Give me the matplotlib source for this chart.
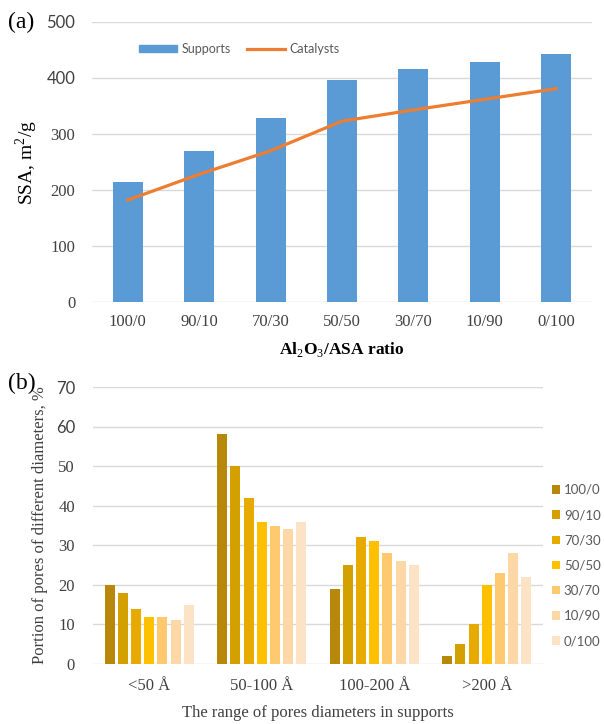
import numpy as np
import matplotlib.pyplot as plt
from matplotlib.patches import Patch
from matplotlib.lines import Line2D

# Données
ratios = ["100/0", "90/10", "70/30", "50/50", "30/70", "10/90", "0/100"]
ssa_supports = [215, 270, 328, 397, 416, 428, 443]
ssa_catalysts = [182, 228, 270, 323, 343, 362, 381]

pore_ranges = ["<50 Å", "50-100 Å", "100-200 Å", ">200 Å"]
pores_100_0 = [20, 58, 19, 2]
pores_90_10 = [18, 50, 25, 5]
pores_70_30 = [14, 42, 32, 10]
pores_50_50 = [12, 36, 31, 20]
pores_30_70 = [12, 35, 28, 23]
pores_10_90 = [11, 34, 26, 28]
pores_0_100 = [15, 36, 25, 22]
pores = [pores_100_0, pores_90_10, pores_70_30, pores_50_50,
         pores_30_70, pores_10_90, pores_0_100]

gold = ["#B8880A", "#D4A000", "#E6AA00", "#FFC000", "#FFC970", "#FDD7A6", "#FDE3C5"]
blue = "#5B9BD5"
orange = "#ED7D31"
grid_c = "#D9D9D9"
txt_c = "#404040"
serif = "Liberation Serif"
sans = "Lato"

plt.rcParams["mathtext.fontset"] = "custom"
plt.rcParams["mathtext.rm"] = serif
plt.rcParams["mathtext.bf"] = serif + ":bold"

fig = plt.figure(figsize=(6.04, 7.24), dpi=100)

def style_axes(ax):
    for s in ax.spines.values():
        s.set_visible(False)
    ax.grid(axis="y", color=grid_c, linewidth=1.0)
    ax.set_axisbelow(True)
    ax.tick_params(length=0)

# (a) surface spécifique
ax1 = fig.add_axes([92/604, 1-302/724, 500/604, 280/724])
style_axes(ax1)
x = np.arange(len(ratios))
ax1.bar(x, ssa_supports, width=0.42, color=blue, zorder=2)
ax1.plot(x, ssa_catalysts, color=orange, linewidth=2.3, zorder=3)
ax1.set_xlim(-0.5, len(ratios) - 0.5)
ax1.set_ylim(0, 500)
ax1.set_yticks(range(0, 501, 100))
ax1.set_xticks(x)
ax1.set_xticklabels(ratios, fontfamily=serif, fontsize=12, color=txt_c)
ax1.tick_params(axis="x", pad=9)
ax1.tick_params(axis="y", pad=12)
for lab in ax1.get_yticklabels():
    v = lab.get_position()[1]
    lab.set_fontfamily(sans if v >= 400 else serif)
    lab.set_fontsize(12)
    lab.set_color(txt_c)
ax1.set_ylabel("SSA, m$^2$/g", fontfamily=serif, fontsize=14)
ax1.yaxis.set_label_coords(-52/500, 0.5)
ax1.set_xlabel("Al$_2$O$_3$/ASA ratio", fontfamily=serif, fontsize=12.5,
               fontweight="bold")
ax1.xaxis.set_label_coords(0.5, -38/280)
ax1.legend(handles=[Patch(color=blue, label="Supports"),
                    Line2D([0], [0], color=orange, lw=2.3, label="Catalysts")],
           loc="upper left", bbox_to_anchor=(36/500, 0.965), ncol=2, frameon=False,
           prop={"family": sans, "size": 9}, labelcolor="#595959",
           handlelength=3.0, handleheight=0.55, handletextpad=0.4, columnspacing=1.3)
fig.text(8/604, 1-22/724, "(a)", fontfamily=serif, fontsize=17, va="center")

# (b) distribution des pores
ax2 = fig.add_axes([93/604, 1-664/724, 450/604, 277/724])
style_axes(ax2)
xg = np.arange(len(pore_ranges))
step = 0.117
for i, (vals, c) in enumerate(zip(pores, gold)):
    ax2.bar(xg + (i - 3) * step, vals, width=0.089, color=c, zorder=2, label=ratios[i])
ax2.set_xlim(-0.5, len(pore_ranges) - 0.5)
ax2.set_ylim(0, 70)
ax2.set_yticks(range(0, 71, 10))
ax2.set_xticks(xg)
ax2.set_xticklabels(pore_ranges, fontfamily=serif, fontsize=12, color=txt_c)
ax2.tick_params(axis="x", pad=10)
ax2.tick_params(axis="y", pad=13)
for lab in ax2.get_yticklabels():
    v = lab.get_position()[1]
    lab.set_fontfamily(sans if v >= 60 else serif)
    lab.set_fontsize(12)
    lab.set_color(txt_c)
ax2.set_ylabel("Portion of pores of different diameters, %", fontfamily=serif,
               fontsize=12, color=txt_c)
ax2.yaxis.set_label_coords(-45/450, 0.5)
ax2.set_xlabel("The range of pores diameters in supports", fontfamily=serif,
               fontsize=12, color=txt_c)
ax2.xaxis.set_label_coords(0.5, -41/277)
fig.legend(*ax2.get_legend_handles_labels(), loc="upper left",
           bbox_to_anchor=(552/604, 1-484/724), frameon=False,
           prop={"family": sans, "size": 9.5}, labelcolor="#595959",
           handlelength=0.6, handleheight=0.6, handletextpad=0.3,
           labelspacing=1.0, borderpad=0, borderaxespad=0)
fig.text(8/604, 1-383/724, "(b)", fontfamily=serif, fontsize=17, va="center")

plt.savefig("out.png", dpi=100)
plt.close()
